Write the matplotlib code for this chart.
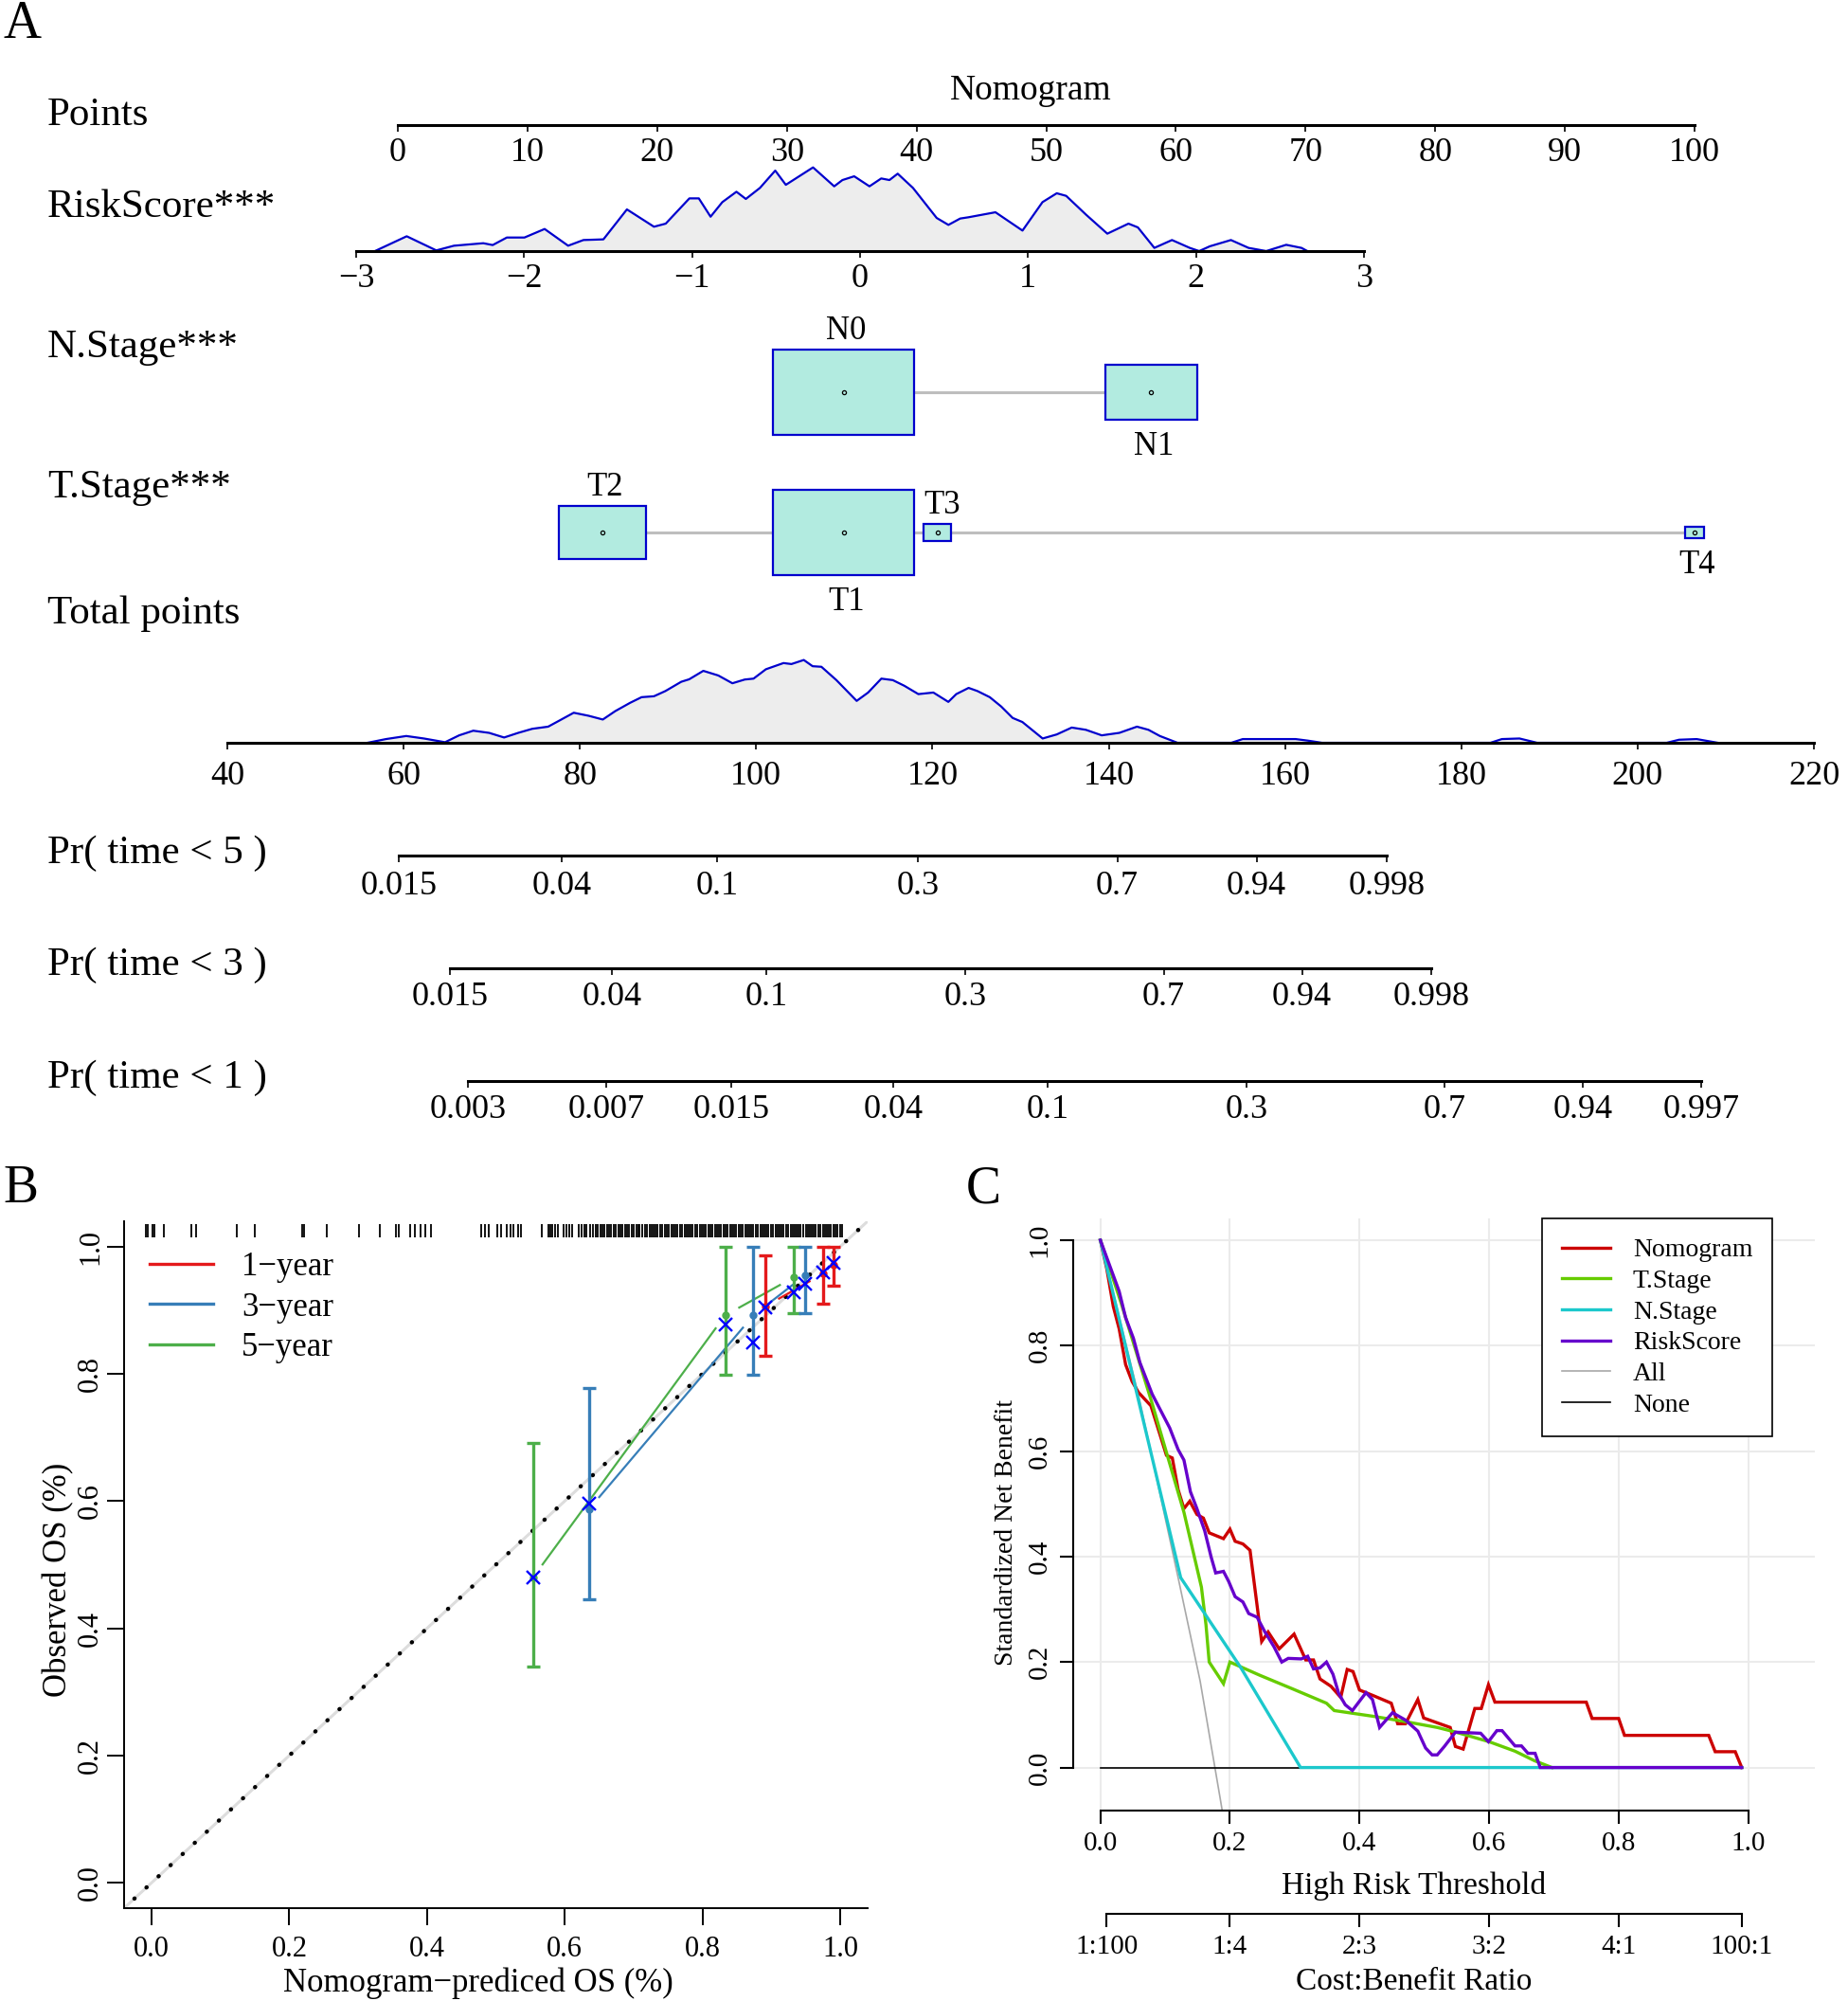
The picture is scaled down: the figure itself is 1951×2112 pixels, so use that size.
import numpy as np
import matplotlib
matplotlib.use('Agg')
import matplotlib.pyplot as plt
from matplotlib.patches import Rectangle
from matplotlib.lines import Line2D

plt.rcParams['font.family'] = ['Liberation Serif', 'DejaVu Serif']

# ---------------- data: nomogram (panel A) ----------------
points_ticks = [0, 10, 20, 30, 40, 50, 60, 70, 80, 90, 100]
risk_ticks = [-3, -2, -1, 0, 1, 2, 3]
total_ticks = [40, 60, 80, 100, 120, 140, 160, 180, 200, 220]
pr5_ticks = [0.015, 0.04, 0.1, 0.3, 0.7, 0.94, 0.998]
pr3_ticks = [0.015, 0.04, 0.1, 0.3, 0.7, 0.94, 0.998]
pr1_ticks = [0.003, 0.007, 0.015, 0.04, 0.1, 0.3, 0.7, 0.94, 0.997]

# RiskScore density (x, relative density)
rs_x = [-2.888, -2.699, -2.523, -2.418, -2.243, -2.187, -2.103, -1.998, -1.878, -1.738,
        -1.647, -1.528, -1.388, -1.227, -1.157, -1.016, -0.960, -0.890, -0.820, -0.736,
        -0.680, -0.596, -0.505, -0.442, -0.280, -0.154, -0.105, -0.035, 0.056, 0.126,
        0.175, 0.224, 0.315, 0.456, 0.526, 0.596, 0.645, 0.806, 0.967, 1.086,
        1.171, 1.227, 1.346, 1.472, 1.598, 1.654, 1.752, 1.857, 1.963, 2.019,
        2.082, 2.208, 2.313, 2.418, 2.537, 2.628, 2.663]
rs_d = [0.0, 0.177, 0.008, 0.064, 0.094, 0.072, 0.162, 0.162, 0.264, 0.064,
        0.132, 0.140, 0.498, 0.291, 0.328, 0.630, 0.630, 0.411, 0.585, 0.709,
        0.623, 0.755, 0.962, 0.792, 1.000, 0.774, 0.849, 0.894, 0.774, 0.868,
        0.849, 0.925, 0.755, 0.396, 0.313, 0.389, 0.404, 0.464, 0.245, 0.585,
        0.691, 0.660, 0.434, 0.208, 0.328, 0.283, 0.038, 0.132, 0.038, 0.0,
        0.057, 0.132, 0.038, 0.0, 0.075, 0.038, 0.0]

# Total points density
tp_x = [55.9, 58.0, 60.3, 62.3, 64.7, 66.3, 67.9, 69.7, 71.4, 73.0, 74.6, 76.4, 77.7,
        79.3, 81.0, 82.6, 84.0, 85.7, 87.0, 88.4, 89.7, 91.5, 92.4, 94.0, 95.7, 97.3,
        98.7, 99.7, 101.1, 103.1, 104.0, 105.4, 106.4, 107.4, 109.1, 111.4, 112.7, 114.2,
        115.5, 116.8, 118.4, 120.1, 121.8, 122.7, 124.1, 125.1, 126.5, 127.8, 129.1,
        130.2, 132.5, 134.1, 135.8, 137.4, 139.2, 141.2, 143.2, 144.5, 145.8, 147.8,
        153.9, 155.2, 157.9, 161.2, 162.6, 164.2, 183.3, 184.6, 186.6, 188.6,
        203.3, 204.7, 206.7, 209.1]
tp_d = [0.0, 0.045, 0.082, 0.052, 0.007, 0.090, 0.146, 0.120, 0.064, 0.120, 0.169, 0.195, 0.270,
        0.363, 0.326, 0.281, 0.382, 0.483, 0.551, 0.562, 0.625, 0.737, 0.767, 0.869, 0.813, 0.719,
        0.764, 0.775, 0.888, 0.963, 0.951, 1.000, 0.925, 0.918, 0.757, 0.506, 0.607, 0.775,
        0.757, 0.689, 0.588, 0.607, 0.494, 0.588, 0.663, 0.625, 0.551, 0.438, 0.300,
        0.251, 0.052, 0.101, 0.184, 0.157, 0.090, 0.120, 0.195, 0.157, 0.082, 0.0,
        0.0, 0.045, 0.045, 0.045, 0.026, 0.0, 0.0, 0.045, 0.052, 0.0,
        0.0, 0.037, 0.045, 0.0]

# categorical predictors: points and relative frequency
n_levels = ['N0', 'N1']
n_points = [34.4, 58.1]
n_freq = [0.70, 0.30]
t_levels = ['T2', 'T1', 'T3', 'T4']
t_points = [15.8, 34.4, 41.6, 100.0]
t_freq = [0.265, 0.696, 0.026, 0.013]

# ---------------- data: calibration (panel B) ----------------
cal_labels = ['1\u2212year', '3\u2212year', '5\u2212year']
cal_colors = ['#E41A1C', '#377EB8', '#4DAF4A']
pred_1y = [0.891, 0.976, 0.990]
obs_1y = [0.906, 0.958, 0.972]
lo_1y = [0.828, 0.910, 0.939]
hi_1y = [0.986, 1.0, 1.0]
corr_1y = [0.905, 0.960, 0.974]
pred_3y = [0.635, 0.874, 0.949]
obs_3y = [0.587, 0.892, 0.955]
lo_3y = [0.445, 0.798, 0.896]
hi_3y = [0.778, 1.0, 1.0]
corr_3y = [0.596, 0.849, 0.942]
pred_5y = [0.554, 0.833, 0.933]
obs_5y = [0.480, 0.892, 0.952]
lo_5y = [0.340, 0.798, 0.896]
hi_5y = [0.691, 1.0, 1.0]
corr_5y = [0.480, 0.877, 0.928]
rug_x = [-0.008, -0.005, 0.001, 0.004, 0.018, 0.057, 0.064, 0.124, 0.150, 0.218, 0.222, 0.255,
         0.301, 0.332, 0.355, 0.359, 0.376, 0.382, 0.390, 0.397, 0.406, 0.479, 0.484, 0.489,
         0.502, 0.507, 0.516, 0.521, 0.526, 0.533, 0.537, 0.567, 0.576, 0.579, 0.582, 0.586,
         0.590, 0.598, 0.602, 0.606, 0.611, 0.620, 0.624, 0.629, 0.632, 0.637, 0.641, 0.645,
         0.648, 0.652, 0.655, 0.657, 0.661, 0.664, 0.667, 0.671, 0.674, 0.678, 0.681, 0.684,
         0.688, 0.691, 0.693, 0.697, 0.700, 0.704, 0.707, 0.709, 0.713, 0.716, 0.719, 0.723,
         0.726, 0.729, 0.732, 0.735, 0.739, 0.742, 0.745, 0.748, 0.751, 0.755, 0.758, 0.761,
         0.764, 0.767, 0.771, 0.774, 0.777, 0.780, 0.783, 0.786, 0.790, 0.793, 0.796, 0.799,
         0.802, 0.805, 0.809, 0.812, 0.815, 0.818, 0.821, 0.824, 0.827, 0.831, 0.834, 0.837,
         0.840, 0.843, 0.846, 0.849, 0.853, 0.856, 0.859, 0.862, 0.865, 0.868, 0.871, 0.874,
         0.878, 0.881, 0.884, 0.887, 0.890, 0.893, 0.896, 0.900, 0.903, 0.906, 0.909, 0.912,
         0.915, 0.918, 0.921, 0.925, 0.928, 0.931, 0.934, 0.937, 0.940, 0.943, 0.946, 0.950,
         0.953, 0.956, 0.959, 0.962, 0.965, 0.968, 0.971, 0.975, 0.978, 0.981, 0.984, 0.987,
         0.990, 0.993, 0.996, 1.000, 1.003]

# ---------------- data: decision curves (panel C) ----------------
thr_nomo = [0, 0.010, 0.020, 0.029, 0.039, 0.049, 0.059, 0.078, 0.088, 0.102, 0.111, 0.120,
            0.129, 0.138, 0.149, 0.159, 0.168, 0.190, 0.200, 0.208, 0.220, 0.231, 0.249, 0.259,
            0.276, 0.299, 0.317, 0.329, 0.339, 0.356, 0.371, 0.381, 0.390, 0.400, 0.422, 0.449,
            0.459, 0.471, 0.490, 0.499, 0.540, 0.548, 0.560, 0.578, 0.588, 0.599, 0.609, 0.750,
            0.759, 0.800, 0.809, 0.939, 0.949, 0.980, 0.990]
nb_nomo = [1.0, 0.945, 0.874, 0.832, 0.764, 0.732, 0.711, 0.686, 0.647, 0.592, 0.587, 0.527,
           0.491, 0.505, 0.480, 0.473, 0.445, 0.434, 0.452, 0.429, 0.424, 0.412, 0.239, 0.257,
           0.225, 0.253, 0.204, 0.204, 0.168, 0.154, 0.133, 0.186, 0.182, 0.147, 0.136, 0.122,
           0.083, 0.083, 0.129, 0.094, 0.076, 0.040, 0.035, 0.112, 0.112, 0.157, 0.124, 0.124,
           0.093, 0.093, 0.061, 0.061, 0.030, 0.030, 0.0]
thr_t = [0, 0.032, 0.080, 0.129, 0.156, 0.163, 0.168, 0.190, 0.200, 0.246, 0.295, 0.349,
         0.361, 0.422, 0.471, 0.520, 0.549, 0.600, 0.640, 0.670, 0.697]
nb_t = [1.0, 0.881, 0.690, 0.484, 0.342, 0.271, 0.200, 0.159, 0.200, 0.175, 0.150, 0.122,
        0.108, 0.097, 0.087, 0.076, 0.067, 0.049, 0.031, 0.013, 0.0]
thr_n = [0, 0.124, 0.217, 0.309, 0.990]
nb_n = [1.0, 0.360, 0.189, 0.0, 0.0]
thr_rs = [0, 0.029, 0.039, 0.051, 0.061, 0.080, 0.107, 0.120, 0.129, 0.139, 0.149, 0.161,
          0.171, 0.178, 0.190, 0.198, 0.208, 0.220, 0.229, 0.242, 0.254, 0.268, 0.280, 0.290,
          0.310, 0.320, 0.329, 0.339, 0.349, 0.359, 0.368, 0.378, 0.389, 0.410, 0.420, 0.431,
          0.451, 0.471, 0.490, 0.502, 0.512, 0.520, 0.531, 0.548, 0.587, 0.599, 0.612, 0.620,
          0.640, 0.650, 0.660, 0.671, 0.679, 0.990]
nb_rs = [1.0, 0.903, 0.853, 0.814, 0.768, 0.708, 0.644, 0.603, 0.583, 0.523, 0.491, 0.449,
         0.399, 0.369, 0.372, 0.353, 0.324, 0.314, 0.292, 0.285, 0.257, 0.229, 0.200, 0.207,
         0.206, 0.211, 0.187, 0.189, 0.200, 0.177, 0.140, 0.119, 0.108, 0.142, 0.129, 0.076,
         0.104, 0.090, 0.069, 0.037, 0.024, 0.024, 0.040, 0.067, 0.065, 0.049, 0.070, 0.070,
         0.041, 0.041, 0.027, 0.027, 0.0, 0.0]
thr_all = [0, 0.06, 0.1195, 0.154, 0.185, 0.20]
nb_all = [1.0, 0.70, 0.363, 0.164, -0.059, -0.17]
thr_none = [0, 0.99]
nb_none = [0, 0]
cost_ratio = [(1, 100), (1, 4), (2, 3), (3, 2), (4, 1), (100, 1)]

# ---------------- figure helpers ----------------
W, H = 1951, 2112
fig = plt.figure(figsize=(W / 100, H / 100), dpi=100)


def px_axes(l, t, r, b):
    return fig.add_axes([l / W, 1 - b / H, (r - l) / W, (b - t) / H])


def px_text(x, y, s, **kw):
    return fig.text(x / W, 1 - y / H, s, **kw)


def lin_lim(v1, p1, v2, p2, L, R):
    k = (v2 - v1) / (p2 - p1)
    return v1 + (L - p1) * k, v1 + (R - p1) * k


def cloglog(p):
    p = np.asarray(p, dtype=float)
    with np.errstate(all='ignore'):
        return np.log(-np.log1p(-np.clip(p, 1e-12, 1 - 1e-15)))


def inv_cloglog(c):
    c = np.asarray(c, dtype=float)
    return -np.expm1(-np.exp(c))


def scale_row(ax, ticks, labels, lo, hi, fs=26, pad=5):
    for s in ['top', 'right', 'left']:
        ax.spines[s].set_visible(False)
    ax.spines['bottom'].set_bounds(lo, hi)
    ax.spines['bottom'].set_linewidth(2.2)
    ax.set_xticks(ticks)
    ax.set_xticklabels(labels, fontsize=fs)
    ax.tick_params(axis='x', direction='out', length=5, width=1.2, pad=pad)
    ax.set_yticks([])
    ax.patch.set_visible(False)


def fmt(v):
    return ('%g' % v).replace('-', '\u2212')


# ---------------- panel A ----------------
px_text(3, 40, 'A', fontsize=40, va='baseline')
px_text(1088, 105, 'Nomogram', fontsize=27, ha='center', va='baseline')
row_names = ['Points', 'RiskScore***', 'N.Stage***', 'T.Stage***', 'Total points',
             'Pr( time < 5 )', 'Pr( time < 3 )', 'Pr( time < 1 )']
row_base = [132, 229, 377, 525, 658, 911, 1029, 1148]
for name, yb in zip(row_names, row_base):
    px_text(50, yb, name, fontsize=31, va='baseline')

# points axis
ax = px_axes(300, 122, 1900, 132)
ax.set_xlim(*lin_lim(0, 420, 100, 1789, 300, 1900))
scale_row(ax, points_ticks, [fmt(v) for v in points_ticks], 0, 100, pad=4.5)

# RiskScore axis with density
ax = px_axes(300, 170, 1600, 265)
ax.set_xlim(*lin_lim(-3, 376, 3, 1440, 300, 1600))
ax.set_ylim(0, 95 / 88.3)
ax.fill_between(rs_x, 0, rs_d, color='#EDEDED', lw=0)
ax.plot(rs_x, rs_d, color='#0000CD', lw=1.6)
scale_row(ax, risk_ticks, [fmt(v) for v in risk_ticks], -3, 3, pad=4.5)

# Total points axis with density
ax = px_axes(150, 689, 1940, 784)
ax.set_xlim(*lin_lim(40, 240, 220, 1915, 150, 1940))
ax.set_ylim(0, 95 / 87.4)
ax.fill_between(tp_x, 0, tp_d, color='#EDEDED', lw=0)
ax.plot(tp_x, tp_d, color='#0000CD', lw=1.6)
scale_row(ax, total_ticks, [fmt(v) for v in total_ticks], 40, 220, pad=9)

# probability axes (complementary log-log scale)
for ticks, (v1, p1, v2, p2), line_y, R, pad in [
        (pr5_ticks, (0.015, 421, 0.998, 1464), 903, 1600, 6.5),
        (pr3_ticks, (0.015, 475, 0.998, 1511), 1022, 1650, 5),
        (pr1_ticks, (0.003, 494, 0.997, 1796), 1141, 1900, 5)]:
    L = 300
    ax = px_axes(L, line_y - 10, R, line_y)
    ax.set_xscale('function', functions=(cloglog, inv_cloglog))
    c1, c2 = cloglog(v1), cloglog(v2)
    cl, cr = lin_lim(c1, p1, c2, p2, L, R)
    ax.set_xlim(float(inv_cloglog(cl)), float(inv_cloglog(cr)))
    scale_row(ax, ticks, [fmt(v) for v in ticks], ticks[0], ticks[-1], fs=26, pad=pad)

# categorical rows (x in points, y in pixels)
axc_ = px_axes(0, 300, W, 660)
axc_.set_xlim(*lin_lim(0, 420, 100, 1789, 0, W))
axc_.set_ylim(660, 300)
axc_.axis('off')
box_w = 10.88   # points, for the most frequent level
box_h = 90      # pixels
for levels, pts, freq, y0 in [(n_levels, n_points, n_freq, 414),
                              (t_levels, t_points, t_freq, 562)]:
    axc_.plot([min(pts), max(pts)], [y0, y0], color='#BEBEBE', lw=2.2, zorder=1)
    fmax = max(freq)
    order = np.argsort(pts)
    for rank, i in enumerate(order):
        s = np.sqrt(freq[i] / fmax)
        w, h = box_w * s, box_h * s
        axc_.add_patch(Rectangle((pts[i] - w / 2, y0 - h / 2), w, h, facecolor='#B2EBE0',
                                 edgecolor='#0000CD', lw=1.6, zorder=2))
        axc_.plot(pts[i], y0, 'o', ms=3, mfc='none', mec='black', mew=0.9, zorder=3)
        if rank % 2 == 0:
            axc_.text(pts[i] + (0.4 if levels[i] == 'T3' else 0.2), y0 - h / 2 - 3, levels[i],
                      fontsize=25, ha='center', va='bottom')
        else:
            axc_.text(pts[i] + 0.2, y0 + h / 2 + 12, levels[i],
                      fontsize=25, ha='center', va='top')

# ---------------- panel B ----------------
px_text(3, 1269, 'B', fontsize=40, va='baseline')
axb = px_axes(131, 1289, 916, 2014)
axb.set_xlim(-0.04, 1.04)
axb.set_ylim(-0.04, 1.04)
for s in ['top', 'right']:
    axb.spines[s].set_visible(False)
for s in ['left', 'bottom']:
    axb.spines[s].set_linewidth(1.4)
ticks = np.round(np.arange(0, 1.01, 0.2), 1)
axb.set_xticks(ticks)
axb.set_xticklabels(['%.1f' % v for v in ticks])
axb.set_yticks(ticks)
axb.set_yticklabels(['%.1f' % v for v in ticks], rotation=90, va='center')
axb.tick_params(length=13, width=1.4, labelsize=22, pad=8)
axb.tick_params(axis='y', pad=2)
px_text(505, 2093, 'Nomogram\u2212prediced OS (%)', fontsize=25, ha='center', va='center')
px_text(62, 1667, 'Observed OS (%)', fontsize=25, ha='center', va='center', rotation=90)

axb.plot([-0.04, 1.04], [-0.04, 1.04], color='#DDDDDD', lw=2.2, zorder=1)
axb.plot([-0.025, 1.04], [-0.025, 1.04], color='black', lw=3.2,
         linestyle=(0, (0.05, 3.85)), dash_capstyle='round', zorder=2)
axb.vlines(rug_x, 1.015, 1.036, color='black', lw=1.3)


def gap_line(ax, xs, ys, color, gap=17, lw=1.6):
    pts = ax.transData.transform(np.column_stack([xs, ys]))
    inv = ax.transData.inverted()
    for a, b in zip(pts[:-1], pts[1:]):
        d = b - a
        n = np.hypot(*d)
        if n <= 2 * gap:
            continue
        u = d / n
        seg = inv.transform(np.array([a + u * gap, b - u * gap]))
        ax.plot(seg[:, 0], seg[:, 1], color=color, lw=lw, zorder=3)


series = [(pred_1y, obs_1y, lo_1y, hi_1y, corr_1y),
          (pred_3y, obs_3y, lo_3y, hi_3y, corr_3y),
          (pred_5y, obs_5y, lo_5y, hi_5y, corr_5y)]
for (pr, ob, lo, hi, co), col in zip(series[::-1], cal_colors[::-1]):
    pr, ob, lo, hi = map(np.asarray, (pr, ob, lo, hi))
    gap_line(axb, pr, ob, col)
    axb.errorbar(pr, ob, yerr=[ob - lo, hi - ob], fmt='none', ecolor=col, elinewidth=2.4,
                 capsize=5, capthick=2.4, zorder=4)
    axb.plot(pr, ob, 'o', color=col, ms=5, zorder=5)
for (pr, ob, lo, hi, co) in series:
    axb.plot(pr, co, 'x', color='#0000FF', ms=10, mew=1.7, zorder=6)
handles = [Line2D([], [], color=c, lw=2.4) for c in cal_colors]
axb.legend(handles, cal_labels, loc='upper left', bbox_to_anchor=(0.035, 0.956),
           frameon=False, fontsize=25, handlelength=1.93, handletextpad=0.86,
           labelspacing=0.28, borderpad=0, borderaxespad=0)

# ---------------- panel C ----------------
px_text(1020, 1269, 'C', fontsize=40, va='baseline')
axd = px_axes(1132.7, 1285.8, 1915.7, 1911)
axd.set_xlim(-0.0424, 1.1024)
axd.set_ylim(-0.0816, 1.0416)
axd.set_xticks(ticks)
axd.set_xticklabels(['%.1f' % v for v in ticks])
axd.set_yticks(ticks)
axd.set_yticklabels(['%.1f' % v for v in ticks], rotation=90, va='center')
axd.grid(True, color='#EBEBEB', lw=1.5)
axd.set_axisbelow(True)
for s in ['top', 'right']:
    axd.spines[s].set_visible(False)
axd.spines['left'].set_bounds(0, 1)
axd.spines['bottom'].set_bounds(0, 1)
for s in ['left', 'bottom']:
    axd.spines[s].set_linewidth(1.5)
axd.tick_params(length=10, width=1.5, labelsize=21, pad=6)

axd.plot(thr_all, nb_all, color='#A8A8A8', lw=1.2)
axd.plot(thr_none, nb_none, color='black', lw=1.2)
dca = [('Nomogram', thr_nomo, nb_nomo, '#CC0000'),
       ('T.Stage', thr_t, nb_t, '#66CC00'),
       ('N.Stage', thr_n, nb_n, '#1CC8CC'),
       ('RiskScore', thr_rs, nb_rs, '#6600CC')]
for name, x, y, col in dca:
    axd.plot(x, y, color=col, lw=2.4, solid_joinstyle='miter')

handles = [Line2D([], [], color=c, lw=2.4) for _, _, _, c in dca]
handles += [Line2D([], [], color='#A8A8A8', lw=1.2), Line2D([], [], color='black', lw=1.2)]
names = [d[0] for d in dca] + ['All', 'None']
leg = axd.legend(handles, names, loc='upper left', bbox_to_anchor=(1628 / W, 1 - 1286 / H),
                 bbox_transform=fig.transFigure, fontsize=20, frameon=True, fancybox=False,
                 edgecolor='black', framealpha=1, handlelength=1.85, handletextpad=0.85,
                 labelspacing=0.26, borderpad=0.75, borderaxespad=0)
leg.get_frame().set_linewidth(1.2)

px_text(1493, 1991, 'High Risk Threshold', fontsize=24, ha='center', va='center')
px_text(1062, 1617, 'Standardized Net Benefit', fontsize=20, ha='center', va='center',
        rotation=90)

axk = px_axes(1132.7, 2010, 1915.7, 2020)
axk.set_xlim(-0.0424, 1.1024)
cost_thr = [a / (a + b) for a, b in cost_ratio]
for s in ['top', 'right', 'left']:
    axk.spines[s].set_visible(False)
axk.spines['bottom'].set_bounds(cost_thr[0], cost_thr[-1])
axk.spines['bottom'].set_linewidth(1.5)
axk.set_xticks(cost_thr)
axk.set_xticklabels(['%d:%d' % r for r in cost_ratio])
axk.set_yticks([])
axk.tick_params(length=10, width=1.5, labelsize=21, pad=6)
axk.patch.set_visible(False)
px_text(1493, 2092, 'Cost:Benefit Ratio', fontsize=24, ha='center', va='center')

fig.savefig('out.png', dpi=100)
